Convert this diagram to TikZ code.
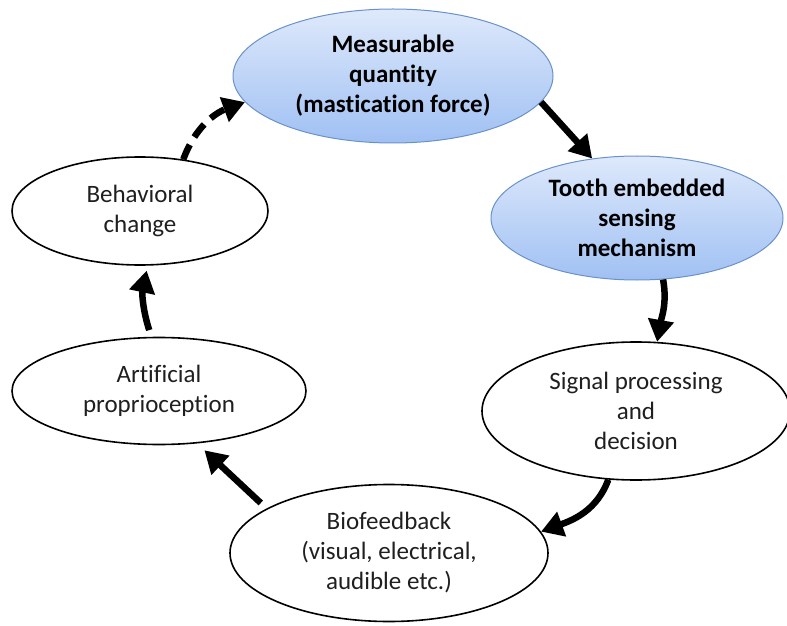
\documentclass[tikz,border=0pt]{standalone}
\usepackage{fontspec}
\setmainfont{Carlito}[Ligatures=NoCommon]
\usepackage{tikz}
\usetikzlibrary{shapes.geometric}
\usetikzlibrary{arrows.meta}
\pgfdeclarelayer{nodelayer}
\pgfdeclarelayer{edgelayer}
\pgfsetlayers{nodelayer,edgelayer,main}
\definecolor{bubbleedge}{RGB}{106,146,201}
\definecolor{bubbletop}{RGB}{222,233,251}
\definecolor{bubblebottom}{RGB}{160,192,243}

\begin{document}
\begin{tikzpicture}[x=1pt, y=1pt,
    bubble/.style={ellipse, draw, line width=1.6pt, inner sep=0pt, align=center, text=black!88, font=\fontsize{25}{30}\selectfont},
    bluebubble/.style={bubble, draw=bubbleedge, line width=1pt, top color=bubbletop, bottom color=bubblebottom, text=black, font=\fontsize{25}{30}\selectfont\bfseries},
    flow/.style={line width=6.5pt, -{Triangle[length=22pt, width=25pt]}},
    dashflow/.style={flow, dash pattern=on 16pt off 9pt}]
  \useasboundingbox (0, 0) rectangle (787, 625);
  \begin{pgfonlayer}{nodelayer}
    \node [bluebubble, minimum width=320pt, minimum height=134pt] (0) at (393, 549) {Measurable\\quantity\\(mastication force)};
    \node [bluebubble, minimum width=292pt, minimum height=124pt] (1) at (637, 407) {Tooth embedded\\sensing\\mechanism};
    \node [bubble, minimum width=308pt, minimum height=138pt] (2) at (636, 214) {Signal processing\\and\\decision};
    \node [bubble, minimum width=318pt, minimum height=137pt] (3) at (389, 72) {Biofeedback\\(visual, electrical,\\audible etc.)};
    \node [bubble, minimum width=294pt, minimum height=107pt] (4) at (159, 234) {Artificial\\proprioception};
    \node [bubble, minimum width=256pt, minimum height=108pt] (5) at (140, 414) {Behavioral\\change};
  \end{pgfonlayer}
  \begin{pgfonlayer}{edgelayer}
    \draw [dashflow] (5.50) to [out=70, in=200] (0.190);
    \draw [flow] (0.350) to (1.127);
    \draw [flow] (1.293) to [out=280, in=80] (2.73);
    \draw [flow] (2.248) to [out=250, in=20] (3.8);
    \draw [flow, shorten <=8pt, shorten >=10pt] (3.160) to (4.306);
    \draw [flow, shorten <=7pt, shorten >=5pt] (4.98) to [bend left=15] (5.278);
  \end{pgfonlayer}
\end{tikzpicture}
\end{document}
